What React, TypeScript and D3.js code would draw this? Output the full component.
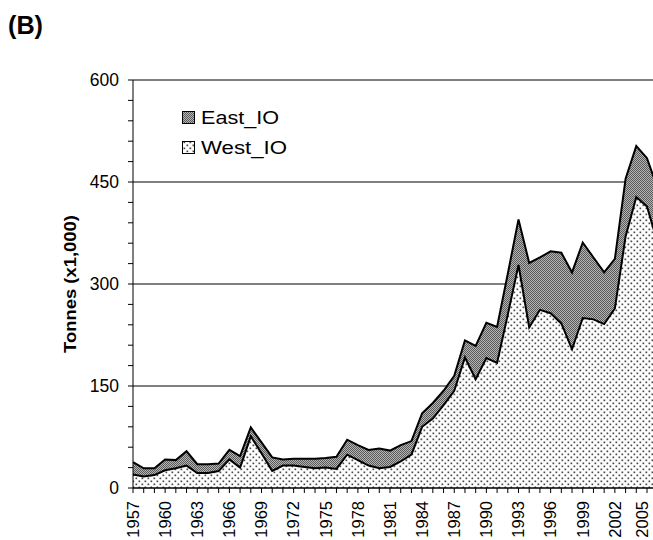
import React from "react";
import * as d3 from "d3";

const years: number[] = d3.range(1957, 2007);
const westIO: number[] = [
  20, 17, 19, 26, 29, 33, 22, 22, 25, 42,
  30, 76, 51, 25, 33, 33, 31, 29, 30, 28,
  49, 41, 33, 29, 31, 39, 49, 90, 102, 122,
  143, 192, 160, 191, 184, 255, 328, 236, 262, 257,
  242, 204, 250, 248, 241, 264, 370, 428, 414, 360,
];
const eastIO: number[] = [
  18, 12, 10, 16, 12, 21, 13, 13, 11, 14,
  17, 13, 16, 20, 9, 10, 12, 14, 14, 18,
  22, 22, 23, 29, 24, 24, 20, 20, 23, 21,
  22, 25, 49, 52, 53, 60, 67, 95, 77, 91,
  104, 113, 111, 91, 76, 73, 85, 75, 71, 80,
];
const yTicks: number[] = [0, 150, 300, 450, 600];
const yMinorTicks: number[] = d3.range(0, 601, 30);
const xLabelYears: number[] = d3.range(1957, 2006, 3);
const seriesNames: string[] = ["East_IO", "West_IO"];

const FONT = "'Liberation Sans', Arial, Helvetica, sans-serif";

export default function App() {
  const W = 653;
  const H = 540;
  const x = d3.scaleLinear().domain([1957, 2005]).range([133, 647]);
  const y = d3.scaleLinear().domain([0, 600]).range([488, 80]);

  const rows = years.map((yr, i) => ({
    yr,
    w: westIO[i],
    t: westIO[i] + eastIO[i],
  }));

  const westArea = d3
    .area<any>()
    .x((d) => x(d.yr))
    .y0(() => y(0))
    .y1((d) => y(d.w));
  const eastArea = d3
    .area<any>()
    .x((d) => x(d.yr))
    .y0((d) => y(d.w))
    .y1((d) => y(d.t));
  const westLine = d3
    .line<any>()
    .x((d) => x(d.yr))
    .y((d) => y(d.w));
  const topLine = d3
    .line<any>()
    .x((d) => x(d.yr))
    .y((d) => y(d.t));

  const axisY = y(0);
  const axisX = x(1957);

  return (
    <svg
      width={W}
      height={H}
      style={{ position: "absolute", left: 0, top: 0, background: "#fff" }}
      fontFamily={FONT}
    >
      <defs>
        <pattern id="eastPat" width={2} height={2} patternUnits="userSpaceOnUse">
          <rect width={2} height={2} fill="#b4b4b4" />
          <rect width={1} height={1} fill="#5a5a5a" />
          <rect x={1} y={1} width={1} height={1} fill="#5a5a5a" />
        </pattern>
        <pattern id="westPat" width={6} height={6} patternUnits="userSpaceOnUse">
          <rect width={6} height={6} fill="#fff" />
          <rect x={0.5} y={0.5} width={1.7} height={1.7} fill="#4a4a4a" />
          <rect x={3.5} y={3.5} width={1.7} height={1.7} fill="#4a4a4a" />
        </pattern>
      </defs>

      <text x={8} y={34} fontSize={25} fontWeight="bold" fill="#000" textLength={35} lengthAdjust="spacingAndGlyphs">
        (B)
      </text>

      {/* gridlines */}
      {yTicks
        .filter((v) => v > 0)
        .map((v) => (
          <line
            key={"g" + v}
            x1={axisX}
            x2={W}
            y1={y(v)}
            y2={y(v)}
            stroke="#000"
            strokeWidth={1}
          />
        ))}

      {/* areas */}
      <path d={eastArea(rows) || ""} fill="url(#eastPat)" />
      <path d={westArea(rows) || ""} fill="url(#westPat)" />
      <path d={topLine(rows) || ""} fill="none" stroke="#000" strokeWidth={2} strokeLinejoin="miter" />
      <path d={westLine(rows) || ""} fill="none" stroke="#000" strokeWidth={2} strokeLinejoin="miter" />

      {/* y axis */}
      <line x1={axisX} x2={axisX} y1={y(600)} y2={axisY} stroke="#000" strokeWidth={1} />
      {yMinorTicks.map((v) => (
        <line key={"yt" + v} x1={axisX - 5} x2={axisX} y1={y(v)} y2={y(v)} stroke="#000" strokeWidth={1} />
      ))}
      {yTicks.map((v) => (
        <text
          key={"yl" + v}
          x={119}
          y={y(v)}
          dy="0.35em"
          textAnchor="end"
          fontSize={17.5}
          fill="#000"
        >
          {v}
        </text>
      ))}
      <text
        transform={`translate(70, ${(y(0) + y(600)) / 2}) rotate(-90)`}
        textAnchor="middle"
        dy="0.35em"
        fontSize={17}
        fontWeight="bold"
        fill="#000"
        textLength={138}
        lengthAdjust="spacingAndGlyphs"
      >
        Tonnes (x1,000)
      </text>

      {/* x axis */}
      <line x1={axisX} x2={W} y1={axisY} y2={axisY} stroke="#000" strokeWidth={1.5} />
      {years.map((yr) => (
        <line key={"xt" + yr} x1={x(yr)} x2={x(yr)} y1={axisY} y2={axisY + 5} stroke="#000" strokeWidth={1} />
      ))}
      {xLabelYears.map((yr) => (
        <text
          key={"xl" + yr}
          transform={`translate(${Math.min(x(yr), 642)}, 501) rotate(-90)`}
          textAnchor="end"
          dy="0.35em"
          fontSize={16.5}
          fill="#000"
        >
          {yr}
        </text>
      ))}

      {/* legend */}
      <rect x={182.5} y={111.5} width={12} height={12} fill="url(#eastPat)" stroke="#000" strokeWidth={1} />
      <text x={201} y={123.5} fontSize={17.5} fill="#000" textLength={78} lengthAdjust="spacingAndGlyphs">
        {seriesNames[0]}
      </text>
      <rect x={182.5} y={141.5} width={12} height={12} fill="url(#westPat)" stroke="#000" strokeWidth={1} />
      <text x={201} y={153.5} fontSize={17.5} fill="#000" textLength={86} lengthAdjust="spacingAndGlyphs">
        {seriesNames[1]}
      </text>
    </svg>
  );
}
